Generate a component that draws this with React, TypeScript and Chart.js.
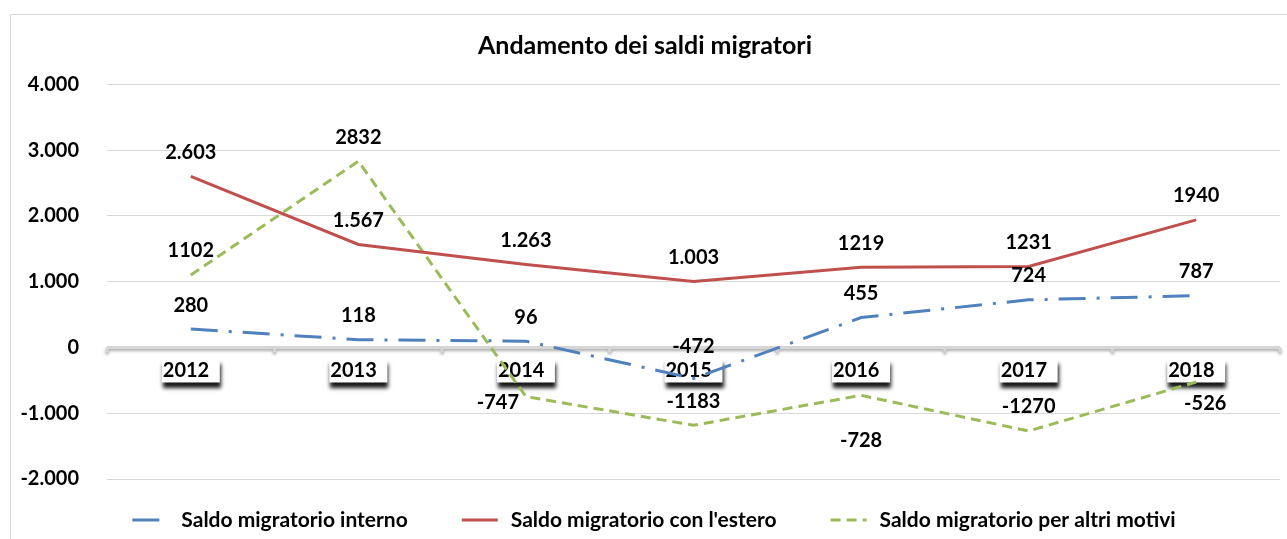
import React, { useEffect, useRef } from 'react';
import { Chart, registerables } from 'chart.js';

Chart.register(...registerables);

const FONT = 'Lato';

const years = ['2012', '2013', '2014', '2015', '2016', '2017', '2018'];
const interno = [280, 118, 96, -472, 455, 724, 787];
const estero = [2603, 1567, 1263, 1003, 1219, 1231, 1940];
const altri = [1102, 2832, -747, -1183, -728, -1270, -526];
const internoSep = [false, false, false, false, false, false, false];
const esteroSep = [true, true, true, true, false, false, false];
const altriSep = [false, false, false, false, false, false, false];
const yTicks = [-2000, -1000, 0, 1000, 2000, 3000, 4000];
const internoLabelPos = ['a', 'a', 'a', 'A', 'a', 'a', 'a'];
const esteroLabelPos = ['a', 'a', 'a', 'a', 'a', 'a', 'a'];
const altriLabelPos = ['a', 'a', 'l', 'a', 'B', 'a', 'r'];

const labelOffsets: Record<string, [number, number]> = {
  a: [0, -24],
  A: [0, -32],
  B: [0, 45],
  l: [-28, 6],
  r: [9, 21],
};

function fmt(v: number, sep: boolean): string {
  const neg = v < 0;
  let s = String(Math.abs(Math.round(v)));
  if (sep) s = s.replace(/\B(?=(\d{3})+(?!\d))/g, '.');
  return (neg ? '-' : '') + s;
}

const decorPlugin = {
  id: 'decor',
  beforeDatasetsDraw(chart: any) {
    const { ctx, chartArea, scales } = chart;
    const xs = scales.x;
    const ys = scales.y;
    const y0 = ys.getPixelForValue(0);
    ctx.save();
    ctx.shadowColor = 'rgba(0,0,0,0.35)';
    ctx.shadowBlur = 3;
    ctx.shadowOffsetY = 2;
    ctx.strokeStyle = '#d6d6d6';
    ctx.lineWidth = 3;
    ctx.beginPath();
    ctx.moveTo(chartArea.left, y0);
    ctx.lineTo(chartArea.right, y0);
    for (let i = 0; i <= years.length; i++) {
      const bx = xs.getPixelForValue(i - 0.5);
      ctx.moveTo(bx, y0);
      ctx.lineTo(bx, y0 + 5);
    }
    ctx.stroke();
    ctx.shadowColor = 'rgba(0,0,0,0.9)';
    ctx.shadowBlur = 4;
    ctx.shadowOffsetX = 1;
    ctx.shadowOffsetY = 6;
    ctx.fillStyle = '#ffffff';
    years.forEach((_, i) => {
      const cx = xs.getPixelForValue(i);
      ctx.fillRect(cx - 29, y0 + 11, 58, 24);
    });
    ctx.shadowColor = 'transparent';
    ctx.shadowBlur = 0;
    ctx.shadowOffsetX = 0;
    ctx.shadowOffsetY = 0;
    ctx.fillStyle = '#000';
    ctx.font = `bold 20px ${FONT}`;
    ctx.textAlign = 'left';
    ctx.textBaseline = 'middle';
    years.forEach((yr, i) => {
      const cx = xs.getPixelForValue(i);
      ctx.fillText(yr, cx - 28, y0 + 23);
    });
    ctx.restore();
  },
  afterDatasetsDraw(chart: any) {
    const { ctx, scales } = chart;
    const xs = scales.x;
    const ys = scales.y;
    ctx.save();
    ctx.fillStyle = '#000';
    ctx.font = `bold 20px ${FONT}`;
    ctx.textAlign = 'center';
    ctx.textBaseline = 'middle';
    chart.data.datasets.forEach((ds: any) => {
      ds.data.forEach((v: number, i: number) => {
        const [dx, dy] = labelOffsets[ds.labelPos[i]];
        const px = xs.getPixelForValue(i);
        const py = ys.getPixelForValue(v);
        ctx.fillText(fmt(v, ds.labelSep[i]), px + dx, py + dy);
      });
    });
    ctx.restore();
  },
  afterDraw(chart: any) {
    const { ctx } = chart;
    ctx.save();
    ctx.font = `bold 21px ${FONT}`;
    ctx.textBaseline = 'middle';
    ctx.textAlign = 'left';
    const sampleW = 36;
    const gapText = 13;
    const gapItem = 54;
    const items = chart.data.datasets.map((ds: any) => ({
      ds,
      w: sampleW + gapText + ctx.measureText(ds.label).width,
    }));
    const total = items.reduce((s: number, it: any) => s + it.w, 0) + gapItem * (items.length - 1);
    let x = chart.width / 2 - total / 2;
    const y = chart.height - 19;
    items.forEach((it: any) => {
      const ds = it.ds;
      ctx.strokeStyle = ds.borderColor;
      ctx.lineWidth = ds.borderWidth;
      ctx.lineCap = 'butt';
      ctx.setLineDash(ds.borderDash || []);
      ctx.beginPath();
      ctx.moveTo(x, y);
      ctx.lineTo(x + sampleW, y);
      ctx.stroke();
      ctx.setLineDash([]);
      ctx.fillStyle = '#000';
      ctx.fillText(ds.label, x + sampleW + gapText, y);
      x += it.w + gapItem;
    });
    ctx.restore();
  },
};

export default function App() {
  const ref = useRef<HTMLCanvasElement | null>(null);
  useEffect(() => {
    if (!ref.current) return;
    const chart = new Chart(ref.current, {
      type: 'line',
      data: {
        labels: years,
        datasets: [
          {
            label: 'Saldo migratorio interno',
            data: interno,
            borderColor: '#4f81bd',
            backgroundColor: '#4f81bd',
            borderWidth: 3,
            borderDash: [27, 11, 3, 11],
            pointRadius: 0,
            tension: 0,
            fill: false,
            labelPos: internoLabelPos,
            labelSep: internoSep,
          } as any,
          {
            label: "Saldo migratorio con l'estero",
            data: estero,
            borderColor: '#c0504d',
            backgroundColor: '#c0504d',
            borderWidth: 3,
            pointRadius: 0,
            tension: 0,
            fill: false,
            labelPos: esteroLabelPos,
            labelSep: esteroSep,
          } as any,
          {
            label: 'Saldo migratorio per altri motivi',
            data: altri,
            borderColor: '#9bbb59',
            backgroundColor: '#9bbb59',
            borderWidth: 3,
            borderDash: [10, 6],
            pointRadius: 0,
            tension: 0,
            fill: false,
            labelPos: altriLabelPos,
            labelSep: altriSep,
          } as any,
        ],
      },
      options: {
        animation: false,
        responsive: false,
        layout: { padding: { left: 0, right: 18, top: 0, bottom: 60 } },
        plugins: {
          legend: { display: false },
          tooltip: { enabled: false },
          title: {
            display: true,
            text: 'Andamento dei saldi migratori',
            color: '#000',
            font: { family: FONT, size: 25, weight: 'bold', lineHeight: 1.2 },
            padding: { top: 17, bottom: 23.4 },
          },
        },
        scales: {
          x: { type: 'category', display: false, offset: true },
          y: {
            min: -2000,
            max: 4000,
            afterBuildTicks: (s: any) => {
              s.ticks = yTicks.map((v) => ({ value: v }));
            },
            afterFit: (s: any) => {
              s.width = 97;
            },
            ticks: {
              color: '#000',
              font: { family: FONT, size: 20, weight: 'bold' },
              padding: 28,
              callback: (v: any) => fmt(Number(v), true),
            },
            grid: { color: '#d9d9d9', drawTicks: false, lineWidth: 1 },
            border: { display: false },
          },
        },
      },
      plugins: [decorPlugin],
    });
    return () => chart.destroy();
  }, []);

  return (
    <div
      style={{
        position: 'fixed',
        left: 0,
        top: 0,
        width: 1287,
        height: 539,
        overflow: 'hidden',
        background: '#fff',
      }}
    >
      <div
        style={{
          position: 'absolute',
          left: 10,
          top: 14,
          width: 1320,
          height: 600,
          borderTop: '1px solid #d9d9d9',
          borderLeft: '1px solid #d9d9d9',
          boxSizing: 'border-box',
        }}
      />
      <canvas
        ref={ref}
        width={1288}
        height={525}
        style={{ position: 'absolute', left: 10, top: 14, width: 1288, height: 525 }}
      />
    </div>
  );
}
